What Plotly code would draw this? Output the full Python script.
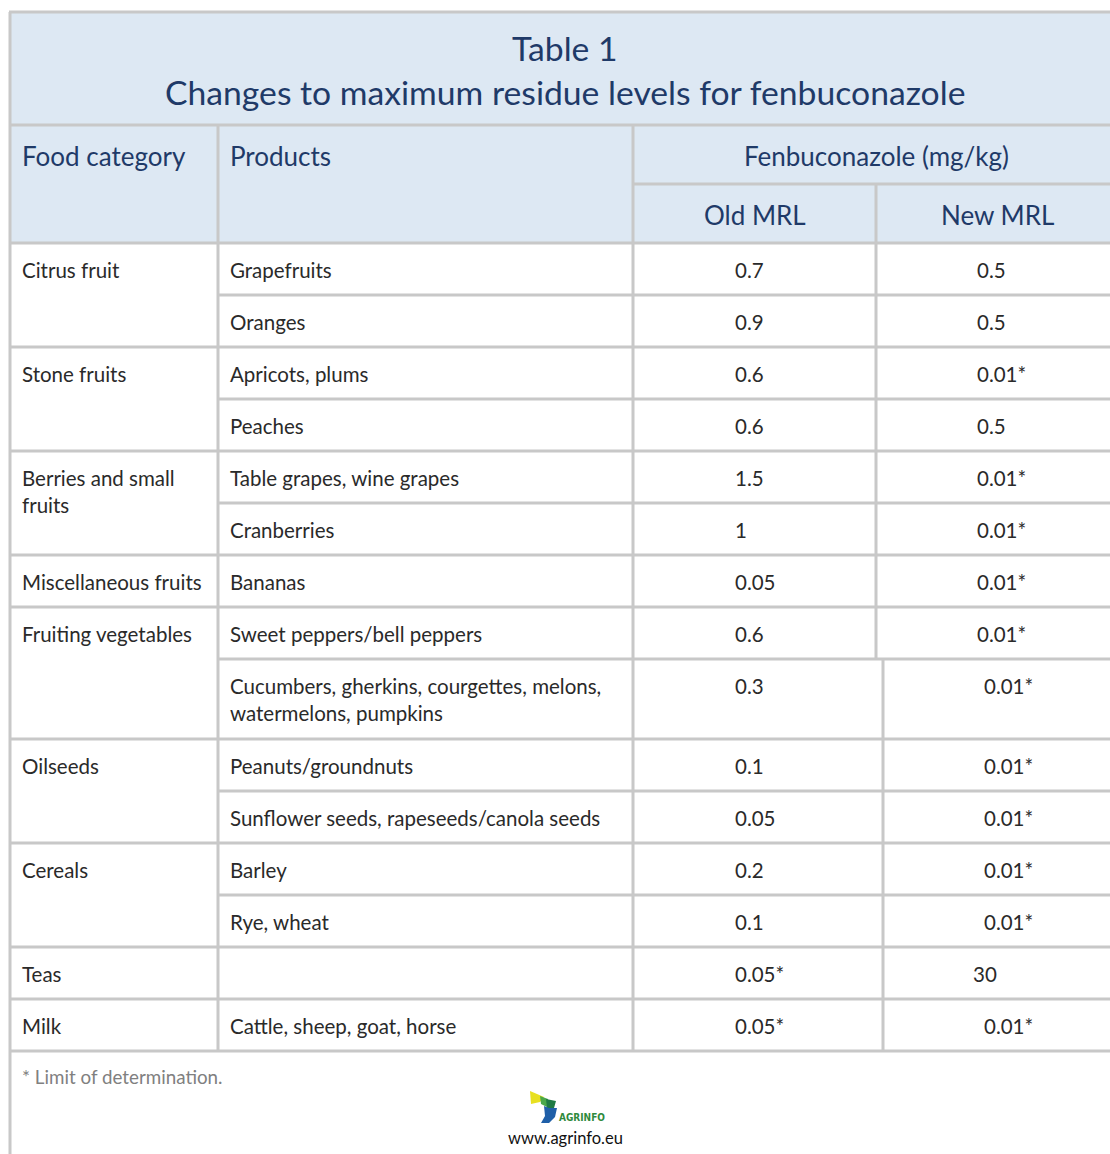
import plotly.graph_objects as go

# ---------------- data ----------------
title_lines = ["Table 1", "Changes to maximum residue levels for fenbuconazole"]
header_cols = ["Food category", "Products", "Fenbuconazole (mg/kg)"]
sub_headers = ["Old MRL", "New MRL"]

categories = ["Citrus fruit", "Stone fruits", "Berries and small<br>fruits",
              "Miscellaneous fruits", "Fruiting vegetables", "Oilseeds",
              "Cereals", "Teas", "Milk"]
category_rows = [2, 2, 2, 1, 2, 2, 2, 1, 1]

products = ["Grapefruits", "Oranges", "Apricots, plums", "Peaches",
            "Table grapes, wine grapes", "Cranberries", "Bananas",
            "Sweet peppers/bell peppers",
            "Cucumbers, gherkins, courgettes, melons,<br>watermelons, pumpkins",
            "Peanuts/groundnuts", "Sunflower seeds, rapeseeds/canola seeds",
            "Barley", "Rye, wheat", "", "Cattle, sheep, goat, horse"]
old_mrl = ["0.7", "0.9", "0.6", "0.6", "1.5", "1", "0.05", "0.6", "0.3",
           "0.1", "0.05", "0.2", "0.1", "0.05*", "0.05*"]
new_mrl = ["0.5", "0.5", "0.01*", "0.5", "0.01*", "0.01*", "0.01*", "0.01*",
           "0.01*", "0.01*", "0.01*", "0.01*", "0.01*", "30", "0.01*"]

footnote = "* Limit of determination."
website = "www.agrinfo.eu"
logo_text = "AGRINFO"

# ---------------- layout / style ----------------
W, H = 1110, 1154
LEFT, TOP = 10, 12
TITLE_BOTTOM = 125
HEAD_MID = 184
HEAD_BOTTOM = 243
COL_X = [LEFT, 218, 633]
SPLIT_UPPER, SPLIT_LOWER = 876, 883
ROW_H = 52
TALL_ROW_H = 80
RIGHT = W + 20
PAD = 10

LINE = "#c8c8c8"
LW = 3
HEAD_FILL = "#dde8f3"
NAVY = "#1f3a68"
BODY = "#2a2a2a"
FONT = "Lato, 'Noto Sans', sans-serif"
BODY_SIZE = 20.5
HEAD_SIZE = 26
TITLE_SIZE = 33.7

row_heights = [TALL_ROW_H if "<br>" in p else ROW_H for p in products]
row_tops = [HEAD_BOTTOM]
for h in row_heights:
    row_tops.append(row_tops[-1] + h)
TABLE_BOTTOM = row_tops[-1]
tall_index = next(i for i, p in enumerate(products) if "<br>" in p)

shapes = []
annotations = []


def rect(x0, y0, x1, y1, fill):
    shapes.append(dict(type="rect", xref="x", yref="y", x0=x0, y0=y0, x1=x1, y1=y1,
                       fillcolor=fill, line=dict(width=0), layer="below"))


def hline(x0, x1, y):
    shapes.append(dict(type="line", xref="x", yref="y", x0=x0, x1=x1, y0=y, y1=y,
                       line=dict(color=LINE, width=LW)))


def vline(x, y0, y1):
    shapes.append(dict(type="line", xref="x", yref="y", x0=x, x1=x, y0=y0, y1=y1,
                       line=dict(color=LINE, width=LW)))


def text(x, y, s, size, color, xanchor="left", yanchor="top", weight=None, family=FONT):
    annotations.append(dict(x=x, y=y, xref="x", yref="y", text=s, showarrow=False,
                            xanchor=xanchor, yanchor=yanchor, align="left",
                            font=dict(size=size, color=color, family=family,
                                      weight=weight)))


# header fills
rect(LEFT, TOP, RIGHT, HEAD_BOTTOM, HEAD_FILL)

# title
text(565, 48, title_lines[0], TITLE_SIZE, NAVY, xanchor="center", yanchor="middle")
text(565, 92, title_lines[1], TITLE_SIZE, NAVY, xanchor="center", yanchor="middle")

# header texts
text(COL_X[0] + PAD, 156, header_cols[0], HEAD_SIZE, NAVY, yanchor="middle")
text(COL_X[1] + PAD, 156, header_cols[1], HEAD_SIZE, NAVY, yanchor="middle")
text(876, 156, header_cols[2], HEAD_SIZE, NAVY, xanchor="center", yanchor="middle")
text((COL_X[2] + SPLIT_UPPER) / 2, 215, sub_headers[0], HEAD_SIZE, NAVY, xanchor="center", yanchor="middle")
text(SPLIT_UPPER + 121, 215, sub_headers[1], HEAD_SIZE, NAVY, xanchor="center", yanchor="middle")

# outer/header lines
hline(LEFT - 1, RIGHT, TOP)
hline(LEFT - 1, RIGHT, TITLE_BOTTOM)
hline(COL_X[2], RIGHT, HEAD_MID)
hline(LEFT - 1, RIGHT, HEAD_BOTTOM)
vline(LEFT, TOP, H + 5)
for x in COL_X[1:]:
    vline(x, TITLE_BOTTOM, TABLE_BOTTOM)
vline(SPLIT_UPPER, HEAD_MID, row_tops[tall_index])
vline(SPLIT_LOWER, row_tops[tall_index], TABLE_BOTTOM)

# body rows
TEXT_OFF = 13
for i, (p, o, n) in enumerate(zip(products, old_mrl, new_mrl)):
    y0 = row_tops[i]
    split = SPLIT_UPPER if i < tall_index else SPLIT_LOWER
    text(COL_X[1] + PAD, y0 + TEXT_OFF, p, BODY_SIZE, BODY)
    text(733, y0 + TEXT_OFF, o, BODY_SIZE, BODY)
    text(split + 99 if n != "30" else split + 88, y0 + TEXT_OFF, n, BODY_SIZE, BODY)
    hline(COL_X[1], RIGHT, row_tops[i + 1])

r = 0
for c, span in zip(categories, category_rows):
    text(COL_X[0] + PAD, row_tops[r] + TEXT_OFF, c, BODY_SIZE, BODY)
    r += span
    hline(LEFT - 1, COL_X[1], row_tops[r])

# footnote and logo
text(COL_X[0] + PAD, 1076, footnote, 18.8, "#808080", yanchor="middle")
text(565, 1138, website, 16.5, "#111111", xanchor="center", yanchor="middle")
text(557, 1117.5, logo_text, 10, "#2f8a3c", yanchor="middle", weight="bold",
     family="'DejaVu Sans Condensed', 'DejaVu Sans', sans-serif")

logo_parts = [
    ("M530,1091 L544,1097 L540,1102 L531,1104 Z", "#e8e020"),
    ("M540,1096 L548,1099 L547,1107 L541,1104 Z", "#4aa84a"),
    ("M546,1099 L556,1101 L554,1108 L547,1108 Z", "#1e7a44"),
    ("M544,1106 L549,1108 L557,1108 L555,1117 L549,1123 L541,1123 L545,1116 Z", "#1f5fa8"),
]
for path, col in logo_parts:
    shapes.append(dict(type="path", xref="x", yref="y", path=path, fillcolor=col,
                       line=dict(width=0)))

fig = go.Figure()
fig.update_layout(
    width=W, height=H,
    margin=dict(l=0, r=0, t=0, b=0),
    paper_bgcolor="white", plot_bgcolor="white",
    xaxis=dict(range=[0, W], visible=False, fixedrange=True),
    yaxis=dict(range=[H, 0], visible=False, fixedrange=True),
    shapes=shapes, annotations=annotations,
    showlegend=False, hovermode=False,
)
fig.write_html("out.html", config={"displayModeBar": False},
               post_script="document.body.style.margin='0';document.body.style.overflow='hidden';")
